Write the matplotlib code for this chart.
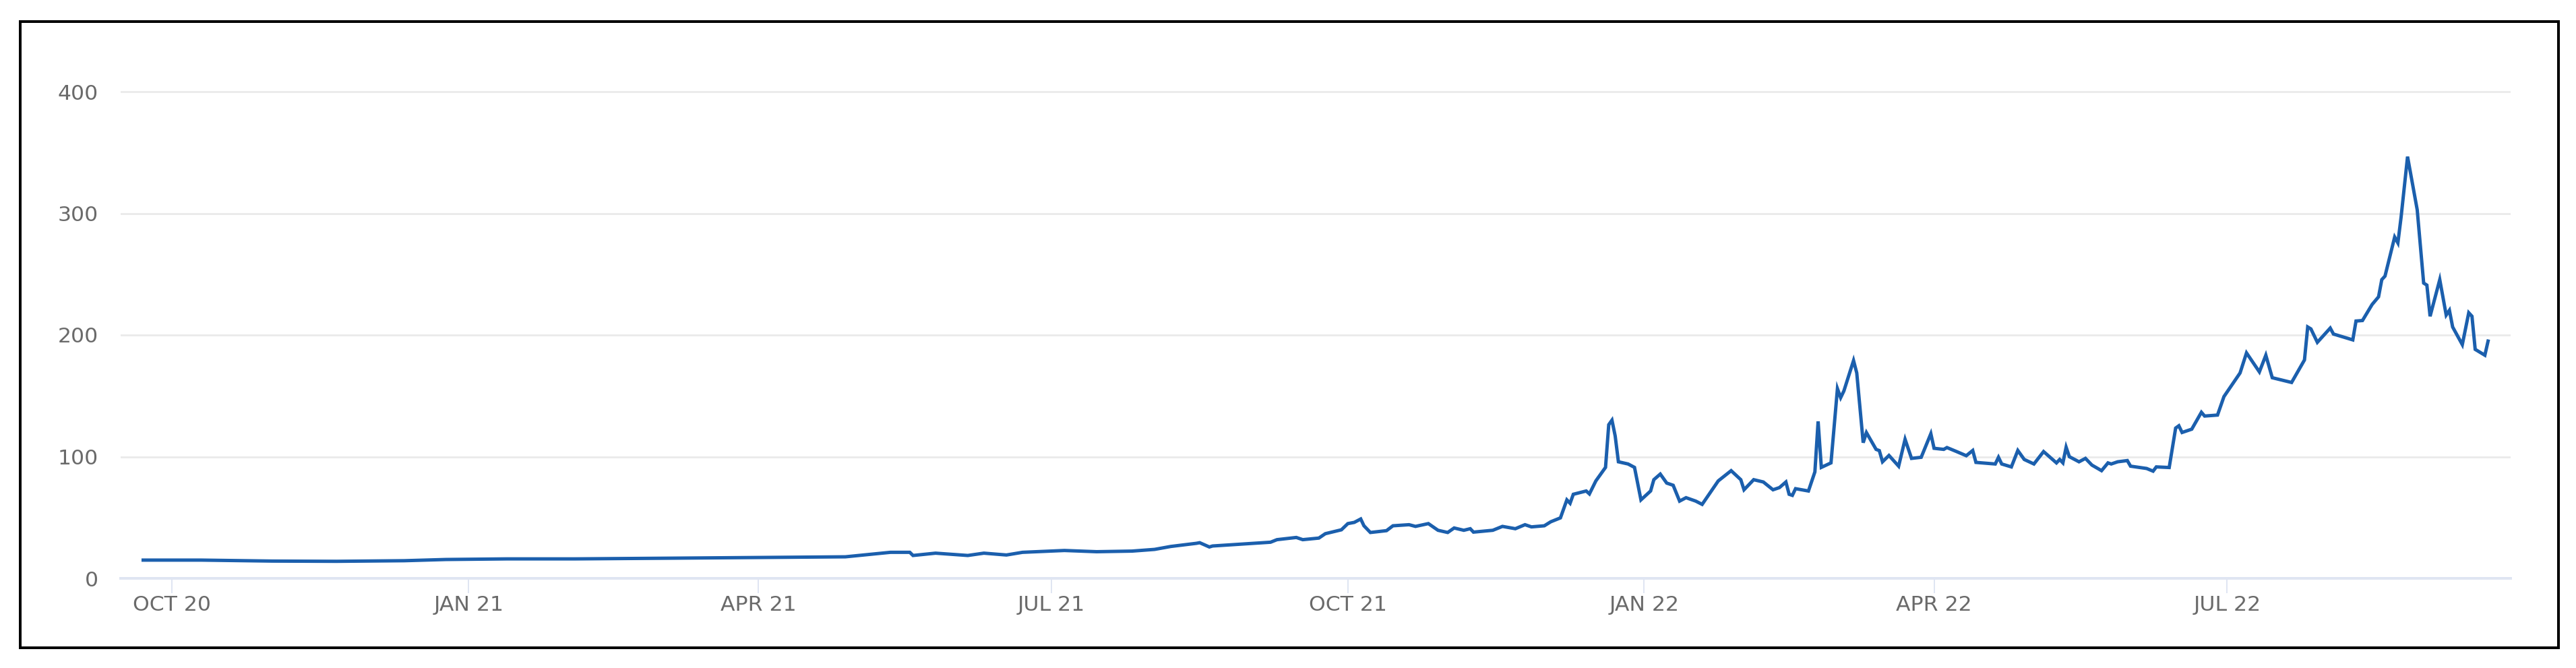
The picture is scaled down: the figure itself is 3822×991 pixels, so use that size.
#!/usr/bin/env python3

import numpy as np
import pandas as pd
import matplotlib
matplotlib.use("Agg")
import matplotlib.pyplot as plt
from matplotlib.patches import Rectangle

W, H, DPI = 3823, 991, 100

# values
dates = [
    "2020-09-22", "2020-10-10", "2020-11-01", "2020-11-21", "2020-12-12", "2020-12-25",
    "2021-01-13", "2021-02-03", "2021-03-06", "2021-04-07", "2021-04-28", "2021-05-12",
    "2021-05-18", "2021-05-19", "2021-05-26", "2021-06-05", "2021-06-10", "2021-06-17",
    "2021-06-22", "2021-07-05", "2021-07-15", "2021-07-26", "2021-08-02", "2021-08-07",
    "2021-08-15", "2021-08-16", "2021-08-19", "2021-08-20", "2021-09-07", "2021-09-09",
    "2021-09-15", "2021-09-17", "2021-09-22", "2021-09-24", "2021-09-29", "2021-10-01",
    "2021-10-03", "2021-10-05", "2021-10-06", "2021-10-08", "2021-10-13", "2021-10-15",
    "2021-10-20", "2021-10-22", "2021-10-26", "2021-10-29", "2021-11-01", "2021-11-03",
    "2021-11-06", "2021-11-08", "2021-11-09", "2021-11-15", "2021-11-18", "2021-11-22",
    "2021-11-25", "2021-11-27", "2021-12-01", "2021-12-03", "2021-12-06", "2021-12-08",
    "2021-12-09", "2021-12-10", "2021-12-14", "2021-12-15", "2021-12-17", "2021-12-19",
    "2021-12-20", "2021-12-21", "2021-12-22", "2021-12-23", "2021-12-24", "2021-12-27",
    "2021-12-29", "2021-12-31", "2022-01-03", "2022-01-04", "2022-01-06", "2022-01-08",
    "2022-01-10", "2022-01-12", "2022-01-14", "2022-01-17", "2022-01-19", "2022-01-24",
    "2022-01-28", "2022-01-31", "2022-02-01", "2022-02-04", "2022-02-07", "2022-02-10",
    "2022-02-12", "2022-02-14", "2022-02-15", "2022-02-16", "2022-02-17", "2022-02-21",
    "2022-02-23", "2022-02-24", "2022-02-25", "2022-02-28", "2022-03-02", "2022-03-03",
    "2022-03-04", "2022-03-07", "2022-03-08", "2022-03-10", "2022-03-11", "2022-03-12",
    "2022-03-14", "2022-03-15", "2022-03-16", "2022-03-18", "2022-03-21", "2022-03-23",
    "2022-03-25", "2022-03-28", "2022-03-31", "2022-04-01", "2022-04-04", "2022-04-05",
    "2022-04-08", "2022-04-11", "2022-04-13", "2022-04-14", "2022-04-20", "2022-04-21",
    "2022-04-22", "2022-04-25", "2022-04-27", "2022-04-29", "2022-05-02", "2022-05-05",
    "2022-05-09", "2022-05-10", "2022-05-11", "2022-05-12", "2022-05-13", "2022-05-16",
    "2022-05-18", "2022-05-20", "2022-05-23", "2022-05-25", "2022-05-26", "2022-05-28",
    "2022-05-31", "2022-06-01", "2022-06-06", "2022-06-08", "2022-06-09", "2022-06-13",
    "2022-06-15", "2022-06-16", "2022-06-17", "2022-06-20", "2022-06-23", "2022-06-24",
    "2022-06-28", "2022-06-30", "2022-07-05", "2022-07-07", "2022-07-11", "2022-07-13",
    "2022-07-15", "2022-07-21", "2022-07-25", "2022-07-26", "2022-07-27", "2022-07-29",
    "2022-08-02", "2022-08-03", "2022-08-09", "2022-08-10", "2022-08-12", "2022-08-15",
    "2022-08-17", "2022-08-18", "2022-08-19", "2022-08-22", "2022-08-23", "2022-08-24",
    "2022-08-26", "2022-08-29", "2022-08-31", "2022-09-01", "2022-09-02", "2022-09-05",
    "2022-09-07", "2022-09-08", "2022-09-09", "2022-09-12", "2022-09-14", "2022-09-15",
    "2022-09-16", "2022-09-19", "2022-09-20",
]
values = [
    15.0, 15.0, 14.2, 14.0, 14.5, 15.5,
    16.0, 16.0, 16.6, 17.3, 17.7, 21.4,
    21.4, 18.8, 20.7, 18.8, 20.7, 19.2,
    21.4, 22.9, 21.9, 22.4, 23.8, 26.2,
    28.8, 29.3, 25.8, 26.6, 29.7, 31.8,
    33.6, 31.8, 33.1, 36.7, 39.9, 45.0,
    46.0, 48.8, 43.2, 37.7, 39.2, 43.2,
    44.1, 42.7, 45.0, 39.5, 37.7, 41.4,
    39.5, 40.8, 38.0, 39.5, 42.7, 40.8,
    44.1, 42.3, 43.2, 46.5, 49.7, 64.5,
    61.7, 69.1, 71.8, 69.4, 80.1, 87.5,
    91.2, 126.3, 130.0, 117.0, 95.8, 94.0,
    91.2, 64.5, 71.8, 81.1, 85.7, 78.3,
    76.5, 63.5, 66.3, 63.5, 60.8, 80.1,
    88.5, 81.1, 72.8, 81.1, 79.2, 72.8,
    74.6, 79.2, 69.1, 68.2, 73.7, 71.8,
    87.5, 129.0, 91.2, 94.9, 155.9, 148.5,
    154.0, 179.0, 168.8, 111.5, 119.8, 115.2,
    106.0, 105.0, 95.8, 101.0, 92.2, 114.3,
    98.6, 99.5, 118.9, 106.9, 106.0, 107.5,
    104.2, 100.8, 105.1, 95.3, 94.0, 99.5,
    94.0, 91.6, 105.1, 97.7, 94.0, 104.2,
    94.9, 97.7, 94.9, 107.8, 100.0, 95.8,
    98.6, 93.1, 88.5, 94.9, 94.0, 95.8,
    96.8, 92.2, 90.3, 88.1, 91.6, 91.1,
    123.5, 125.4, 119.9, 122.6, 136.5, 133.4,
    134.2, 149.4, 168.8, 185.3, 169.7, 183.4,
    164.9, 161.0, 179.5, 206.6, 205.0, 194.0,
    205.7, 200.8, 196.0, 211.5, 211.9, 225.1,
    231.4, 245.5, 248.4, 280.5, 275.7, 297.0,
    346.6, 302.9, 242.7, 241.0, 215.4, 245.5,
    216.4, 220.3, 206.6, 192.1, 218.3, 215.4,
    188.2, 183.4, 195.0,
]

tick_dates = ["2020-10-01", "2021-01-01", "2021-04-01", "2021-07-01",
              "2021-10-01", "2022-01-01", "2022-04-01", "2022-07-01"]
tick_labels = ["OCT 20", "JAN 21", "APR 21", "JUL 21", "OCT 21", "JAN 22", "APR 22", "JUL 22"]
y_ticks = [0, 100, 200, 300, 400]


def px(v):
    # pixels -> points at this dpi
    return v * 72.0 / DPI


def draw_chart():
    fig = plt.figure(figsize=(W / DPI, H / DPI), dpi=DPI)
    fig.patch.set_facecolor("white")

    y_top = 410
    bottom_px, scale = 858, 1.805
    top_px = bottom_px - y_top * scale
    ax = fig.add_axes([179 / W, 1 - bottom_px / H, (3725 - 179) / W, (bottom_px - top_px) / H])

    x = pd.to_datetime(dates)
    ax.plot(x, values, color="#1b5fad", lw=px(5), solid_joinstyle="miter", zorder=3)

    ax.set_xlim(pd.Timestamp("2020-09-15"), pd.Timestamp("2022-09-27"))
    ax.set_ylim(0, y_top)

    ax.set_yticks(y_ticks)
    ax.set_yticklabels([str(t) for t in y_ticks])
    ax.set_xticks(pd.to_datetime(tick_dates))
    ax.set_xticklabels(tick_labels)

    ax.grid(axis="y", color="#ebebeb", lw=px(3))
    ax.set_axisbelow(True)
    for s in ["top", "right", "left"]:
        ax.spines[s].set_visible(False)
    ax.spines["bottom"].set_color("#dfe5f2")
    ax.spines["bottom"].set_linewidth(px(4))

    ax.tick_params(axis="y", length=0, pad=px(33), labelsize=px(31.5), labelcolor="#6a6a6a")
    ax.tick_params(axis="x", length=px(22), width=px(2), color="#dfe5f2",
                   pad=px(3), labelsize=px(31.5), labelcolor="#6a6a6a")

    # black frame round the whole chart
    fig.add_artist(Rectangle((30 / W, 1 - 961 / H), (3796 - 30) / W, (961 - 32) / H,
                             transform=fig.transFigure, fill=False,
                             edgecolor="black", lw=px(4)))

    fig.savefig("out.png", dpi=DPI)


def main():
    draw_chart()


if __name__ == "__main__":
    main()
